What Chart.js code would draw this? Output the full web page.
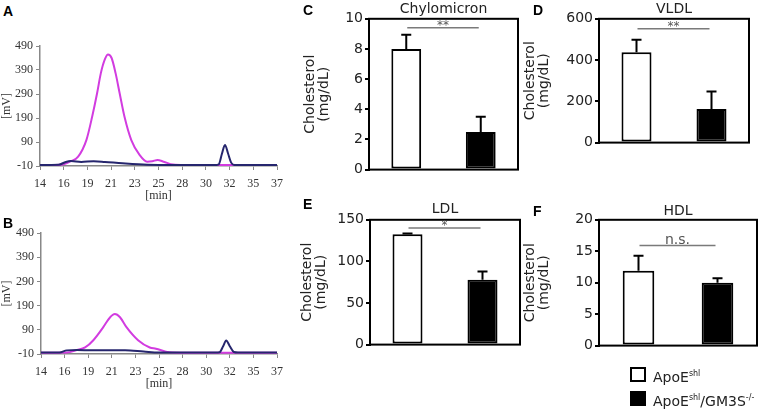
<!DOCTYPE html>
<html lang="en">
<head>
<meta charset="UTF-8">
<title>Lipoprotein cholesterol</title>
<style>
    body {
        margin: 0;
        background: #fff;
        font-family: "DejaVu Sans", sans-serif;
    }
    #wrap {
        position: relative;
        width: 766px;
        height: 414px;
        overflow: hidden;
    }
    canvas {
        position: absolute;
    }
    .tag {
        position: absolute;
        font: bold 14px "Liberation Sans", Arial, sans-serif;
        line-height: 1;
        color: #000;
    }
    .box {
        position: absolute;
        left: 630px;
        width: 16px;
        height: 15px;
        box-sizing: border-box;
        border: 2px solid #000;
    }
    .lab {
        position: absolute;
        left: 653px;
        font-size: 14px;
        line-height: 16px;
        color: #222;
    }
    .lab sup {
        font-size: 8px;
        vertical-align: 6px;
    }
</style>
<script src="https://cdn.jsdelivr.net/npm/chart.js"></script>
</head>
<body>
<div id="wrap">
    <canvas id="chromA" width="290" height="176" style="left:0;top:30px"></canvas>
    <canvas id="chromB" width="290" height="176" style="left:0;top:218px"></canvas>
    <canvas id="chyloChart" width="235" height="180" style="left:290px;top:0"></canvas>
    <canvas id="vldlChart" width="240" height="153" style="left:520px;top:0"></canvas>
    <canvas id="ldlChart" width="235" height="155" style="left:290px;top:200px"></canvas>
    <canvas id="hdlChart" width="246" height="156" style="left:520px;top:200px"></canvas>

    <div class="tag" style="left:3px;top:4px">A</div>
    <div class="tag" style="left:3px;top:216px">B</div>
    <div class="tag" style="left:303px;top:3px">C</div>
    <div class="tag" style="left:533px;top:3px">D</div>
    <div class="tag" style="left:303px;top:197px">E</div>
    <div class="tag" style="left:533px;top:204px">F</div>

    <div class="box" style="top:367px;background:#fff"></div>
    <div class="lab" style="top:366px">ApoE<sup>shl</sup></div>
    <div class="box" style="top:391px;background:#000"></div>
    <div class="lab" style="top:390px">ApoE<sup>shl</sup>/GM3S<sup>-/-</sup></div>
</div>

<script>
    // --- chromatograms (A, B) ---
    const xTickLabels = ['14', '16', '19', '21', '23', '25', '28', '30', '32', '35', '37'];

    // panel A
    const timeA_mag = [14, 15.5, 16.3, 17.0, 17.7, 18.5, 19.06, 19.54, 19.9, 20.3, 20.6, 20.95, 21.34, 21.73, 22.2, 22.86, 23.66, 24.4, 24.9, 25.4, 26.0, 26.9, 28, 31, 32, 37];
    const magentaA = [-6, -6, -3, 10, 29, 98, 195, 293, 376, 435, 455, 440, 376, 293, 195, 98, 36, 8, 10, 15, 8, -4, -6, -6, -6, -6];
    const timeA_nav = [14, 15.8, 16.5, 17.0, 18.0, 19.2, 20.3, 22.0, 24.4, 27, 31.0, 31.35, 31.65, 31.95, 32.25, 32.55, 32.9, 34, 37];
    const navyA = [-6, -5, 7, 11, 7, 10, 7, 1, -5, -6, -6, -3, 40, 78, 42, 4, -6, -6, -6];

    // panel B
    const timeB_mag = [14, 16.5, 17.5, 18.3, 19.1, 20.07, 20.7, 21.2, 21.7, 22.33, 23.46, 24.6, 25.2, 26.5, 28, 37];
    const magentaB = [-5, -4, 6, 17, 47, 101, 140, 155, 142, 101, 47, 17, 12, -3, -5, -5];
    const timeB_nav = [14, 15.8, 16.5, 17.5, 19, 21, 22.2, 24, 25.5, 31.0, 31.4, 31.75, 32.05, 32.4, 32.8, 33.2, 37];
    const navyB = [-4, -4, 5, 7, 5, 5, 5, 0, -4, -4, -3, 22, 46, 22, -2, -4, -4];

    // --- cholesterol bars (C-F) ---
    const groups = ['ApoEshl', 'ApoEshl/GM3S-/-'];
    const chyloMean = [8.0, 2.5];
    const chyloErr = [0.95, 1.0];
    const vldlMean = [438, 163];
    const vldlErr = [60, 85];
    const ldlMean = [132.5, 78];
    const ldlErr = [1, 10];
    const hdlMean = [11.9, 10];
    const hdlErr = [2.4, 0.7];

    Chart.defaults.font.family = '"DejaVu Sans", sans-serif';
    Chart.defaults.color = '#222';
    Chart.defaults.animation = false;

    const serif = { family: '"Liberation Serif", "Times New Roman", serif', size: 12 };

    function pts(t, v) {
        return t.map((x, i) => ({ x: x, y: v[i] }));
    }

    function chromChart(id, tMag, vMag, tNav, vNav, padTop, yWidth) {
        return new Chart(document.getElementById(id), {
            type: 'line',
            data: {
                datasets: [{
                    label: 'navy',
                    data: pts(tNav, vNav),
                    borderColor: '#26266e',
                    borderWidth: 2,
                    pointRadius: 0,
                    cubicInterpolationMode: 'monotone'
                }, {
                    label: 'magenta',
                    data: pts(tMag, vMag),
                    borderColor: '#d23ce0',
                    borderWidth: 2,
                    pointRadius: 0,
                    cubicInterpolationMode: 'monotone'
                }]
            },
            options: {
                responsive: false,
                layout: { padding: { top: padTop, right: 12, left: 0, bottom: 0 } },
                plugins: { legend: { display: false }, tooltip: { enabled: false } },
                scales: {
                    x: {
                        type: 'linear',
                        min: 14,
                        max: 37,
                        afterFit: s => { s.height = 40; },
                        ticks: {
                            stepSize: 2.3,
                            autoSkip: false,
                            maxRotation: 0,
                            padding: 7,
                            font: serif,
                            color: '#333',
                            callback: (v, i) => xTickLabels[i]
                        },
                        grid: { drawOnChartArea: false, tickLength: 4, color: '#888' },
                        border: { color: '#888', width: 1.5 },
                        title: { display: true, text: '[min]', font: serif, color: '#333', padding: 3 }
                    },
                    y: {
                        min: -10,
                        max: 490,
                        afterFit: s => { s.width = yWidth; },
                        ticks: { stepSize: 100, padding: 3, font: serif, color: '#333' },
                        grid: { drawOnChartArea: false, tickLength: 4, color: '#888' },
                        border: { color: '#888', width: 1.5 },
                        title: { display: true, text: '[mV]', font: serif, color: '#333', padding: 0 }
                    }
                }
            }
        });
    }

    chromChart('chromA', timeA_mag, magentaA, timeA_nav, navyA, 16, 40);
    chromChart('chromB', timeB_mag, magentaB, timeB_nav, navyB, 15, 41);

    // error bars (upper only), plot frame and significance bar
    const barExtras = {
        id: 'barExtras',
        afterDatasetsDraw(chart, args, opts) {
            const ctx = chart.ctx;
            const area = chart.chartArea;
            const yScale = chart.scales.y;
            const meta = chart.getDatasetMeta(0);
            const ds = chart.data.datasets[0];
            ctx.save();
            ctx.strokeStyle = '#000';
            ctx.lineWidth = 2;
            meta.data.forEach((bar, i) => {
                const top = yScale.getPixelForValue(ds.data[i] + ds.errors[i]);
                ctx.beginPath();
                ctx.moveTo(bar.x, bar.y);
                ctx.lineTo(bar.x, top);
                ctx.moveTo(bar.x - 5, top);
                ctx.lineTo(bar.x + 5, top);
                ctx.stroke();
            });
            ctx.strokeRect(area.left, area.top, area.right - area.left, area.bottom - area.top);

            const sy = yScale.getPixelForValue(opts.y);
            const x1 = meta.data[0].x + 1;
            const x2 = meta.data[1].x - 2;
            ctx.strokeStyle = '#7a7a7a';
            ctx.lineWidth = 1.5;
            ctx.beginPath();
            ctx.moveTo(x1, sy);
            ctx.lineTo(x2, sy);
            ctx.stroke();
            ctx.fillStyle = '#555';
            ctx.font = opts.size + 'px "DejaVu Sans"';
            ctx.textAlign = 'center';
            ctx.textBaseline = 'alphabetic';
            ctx.fillText(opts.text, (x1 + x2) / 2, sy + opts.dy);
            ctx.restore();
        }
    };

    function barChart(id, title, values, errs, yMax, step, cfg) {
        return new Chart(document.getElementById(id), {
            type: 'bar',
            data: {
                labels: groups,
                datasets: [{
                    data: values,
                    errors: errs,
                    backgroundColor: ['#fff', '#000'],
                    borderColor: '#000',
                    borderWidth: 2,
                    borderSkipped: false,
                    barPercentage: 0.4,
                    categoryPercentage: 1
                }]
            },
            options: {
                responsive: false,
                layout: { padding: { top: 0, left: 0, right: cfg.right, bottom: 7 } },
                plugins: {
                    legend: { display: false },
                    tooltip: { enabled: false },
                    title: {
                        display: true,
                        text: title,
                        fullSize: false,
                        color: '#222',
                        font: { size: 14, weight: 'normal' },
                        padding: cfg.titlePad
                    },
                    barExtras: { y: cfg.sigY, text: cfg.sigText, dy: cfg.sigDy, size: cfg.sigSize }
                },
                scales: {
                    x: { display: false },
                    y: {
                        min: 0,
                        max: yMax,
                        afterFit: s => { s.width = cfg.yWidth; },
                        ticks: { stepSize: step, padding: 2, font: { size: 14 }, color: '#222' },
                        grid: { drawOnChartArea: false, tickLength: 4, color: '#000', lineWidth: 2 },
                        border: { color: '#000', width: 2 },
                        title: {
                            display: true,
                            text: ['Cholesterol', '(mg/dL)'],
                            color: '#222',
                            font: { size: 14, lineHeight: 1 },
                            padding: { top: cfg.titleX, bottom: 0 }
                        }
                    }
                }
            },
            plugins: [barExtras]
        });
    }

    barChart('chyloChart', 'Chylomicron', chyloMean, chyloErr, 10, 2,
        { right: 7, yWidth: 79, titlePad: { top: 1, bottom: 1 }, titleX: 13, sigY: 9.4, sigText: '**', sigDy: 1, sigSize: 12 });
    barChart('vldlChart', 'VLDL', vldlMean, vldlErr, 600, 200,
        { right: 11, yWidth: 79, titlePad: { top: 1, bottom: 1 }, titleX: 3, sigY: 552, sigText: '**', sigDy: 1, sigSize: 12 });
    barChart('ldlChart', 'LDL', ldlMean, ldlErr, 150, 50,
        { right: 5, yWidth: 80, titlePad: { top: 1, bottom: 2 }, titleX: 10, sigY: 140, sigText: '*', sigDy: 1, sigSize: 12 });
    barChart('hdlChart', 'HDL', hdlMean, hdlErr, 20, 5,
        { right: 9, yWidth: 79, titlePad: { top: 3, bottom: 0 }, titleX: 3, sigY: 15.9, sigText: 'n.s.', sigDy: -2, sigSize: 14 });
</script>
</body>
</html>
